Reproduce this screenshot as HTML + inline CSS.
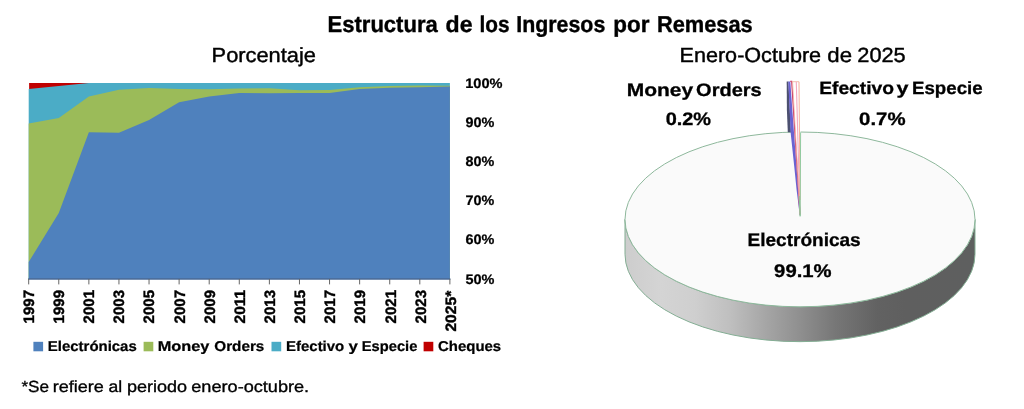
<!DOCTYPE html>
<html lang="es"><head><meta charset="utf-8"><title>Estructura de los Ingresos por Remesas</title>
<style>
html,body{margin:0;padding:0;background:#fff;}
body{width:1024px;height:409px;overflow:hidden;}
svg{display:block;font-family:'Liberation Sans', sans-serif;fill:#000;}
text{white-space:pre;text-rendering:geometricPrecision;}
</style></head><body>
<svg width="1024" height="409" viewBox="0 0 1024 409">
<rect width="1024" height="409" fill="#ffffff"/>
<g style="filter:blur(0.45px)">
<polygon points="29.10,83 90.87,83 90.87,84.5 29.10,91" fill="#C00000"/>
<polygon points="28.70,89.10 58.78,86.05 88.87,83.00 118.95,83.00 149.04,83.00 179.12,83.00 209.21,83.00 239.29,83.00 269.38,83.00 299.46,83.00 329.55,83.00 359.63,83.00 389.72,83.00 419.81,83.00 449.89,83.00 449.89,279.00 28.70,279.00" fill="#4BACC6"/>
<polygon points="28.70,123.50 58.78,118.00 88.87,96.60 118.95,89.80 149.04,88.00 179.12,89.00 209.21,89.30 239.29,88.60 269.38,88.20 299.46,90.20 329.55,89.90 359.63,87.20 389.72,86.00 419.81,85.60 449.89,85.80 449.89,279.00 28.70,279.00" fill="#9BBB59"/>
<polygon points="28.70,262.00 58.78,213.00 88.87,132.20 118.95,132.80 149.04,120.00 179.12,102.30 209.21,96.50 239.29,93.10 269.38,93.30 299.46,92.90 329.55,93.00 359.63,88.90 389.72,87.80 419.81,87.20 449.89,86.60 449.89,279.00 28.70,279.00" fill="#4F81BD"/>
<line x1="28.20" y1="279" x2="450.39" y2="279" stroke="#4a6a96" stroke-width="1.3"/>
<line x1="28.70" y1="279" x2="28.70" y2="284.4" stroke="#666666" stroke-width="1"/>
<line x1="58.78" y1="279" x2="58.78" y2="284.4" stroke="#666666" stroke-width="1"/>
<line x1="88.87" y1="279" x2="88.87" y2="284.4" stroke="#666666" stroke-width="1"/>
<line x1="118.95" y1="279" x2="118.95" y2="284.4" stroke="#666666" stroke-width="1"/>
<line x1="149.04" y1="279" x2="149.04" y2="284.4" stroke="#666666" stroke-width="1"/>
<line x1="179.12" y1="279" x2="179.12" y2="284.4" stroke="#666666" stroke-width="1"/>
<line x1="209.21" y1="279" x2="209.21" y2="284.4" stroke="#666666" stroke-width="1"/>
<line x1="239.29" y1="279" x2="239.29" y2="284.4" stroke="#666666" stroke-width="1"/>
<line x1="269.38" y1="279" x2="269.38" y2="284.4" stroke="#666666" stroke-width="1"/>
<line x1="299.46" y1="279" x2="299.46" y2="284.4" stroke="#666666" stroke-width="1"/>
<line x1="329.55" y1="279" x2="329.55" y2="284.4" stroke="#666666" stroke-width="1"/>
<line x1="359.63" y1="279" x2="359.63" y2="284.4" stroke="#666666" stroke-width="1"/>
<line x1="389.72" y1="279" x2="389.72" y2="284.4" stroke="#666666" stroke-width="1"/>
<line x1="419.81" y1="279" x2="419.81" y2="284.4" stroke="#666666" stroke-width="1"/>
<line x1="449.89" y1="279" x2="449.89" y2="284.4" stroke="#666666" stroke-width="1"/>
<text transform="translate(33.80,323.40) rotate(-90)" font-size="15.12" font-weight="700" stroke="#000" stroke-width="0.4" textLength="33.40" lengthAdjust="spacingAndGlyphs">1997</text>
<text transform="translate(63.95,323.40) rotate(-90)" font-size="15.12" font-weight="700" stroke="#000" stroke-width="0.4" textLength="33.40" lengthAdjust="spacingAndGlyphs">1999</text>
<text transform="translate(94.10,323.40) rotate(-90)" font-size="15.12" font-weight="700" stroke="#000" stroke-width="0.4" textLength="33.40" lengthAdjust="spacingAndGlyphs">2001</text>
<text transform="translate(124.25,323.40) rotate(-90)" font-size="15.12" font-weight="700" stroke="#000" stroke-width="0.4" textLength="33.40" lengthAdjust="spacingAndGlyphs">2003</text>
<text transform="translate(154.40,323.40) rotate(-90)" font-size="15.12" font-weight="700" stroke="#000" stroke-width="0.4" textLength="33.40" lengthAdjust="spacingAndGlyphs">2005</text>
<text transform="translate(184.55,323.40) rotate(-90)" font-size="15.12" font-weight="700" stroke="#000" stroke-width="0.4" textLength="33.40" lengthAdjust="spacingAndGlyphs">2007</text>
<text transform="translate(214.70,323.40) rotate(-90)" font-size="15.12" font-weight="700" stroke="#000" stroke-width="0.4" textLength="33.40" lengthAdjust="spacingAndGlyphs">2009</text>
<text transform="translate(244.85,323.40) rotate(-90)" font-size="15.12" font-weight="700" stroke="#000" stroke-width="0.4" textLength="33.40" lengthAdjust="spacingAndGlyphs">2011</text>
<text transform="translate(275.00,323.40) rotate(-90)" font-size="15.12" font-weight="700" stroke="#000" stroke-width="0.4" textLength="33.40" lengthAdjust="spacingAndGlyphs">2013</text>
<text transform="translate(305.15,323.40) rotate(-90)" font-size="15.12" font-weight="700" stroke="#000" stroke-width="0.4" textLength="33.40" lengthAdjust="spacingAndGlyphs">2015</text>
<text transform="translate(335.30,323.40) rotate(-90)" font-size="15.12" font-weight="700" stroke="#000" stroke-width="0.4" textLength="33.40" lengthAdjust="spacingAndGlyphs">2017</text>
<text transform="translate(365.45,323.40) rotate(-90)" font-size="15.12" font-weight="700" stroke="#000" stroke-width="0.4" textLength="33.40" lengthAdjust="spacingAndGlyphs">2019</text>
<text transform="translate(395.60,323.40) rotate(-90)" font-size="15.12" font-weight="700" stroke="#000" stroke-width="0.4" textLength="33.40" lengthAdjust="spacingAndGlyphs">2021</text>
<text transform="translate(425.75,323.40) rotate(-90)" font-size="15.12" font-weight="700" stroke="#000" stroke-width="0.4" textLength="33.40" lengthAdjust="spacingAndGlyphs">2023</text>
<text transform="translate(455.90,331.60) rotate(-90)" font-size="15.12" font-weight="700" stroke="#000" stroke-width="0.4" textLength="41.00" lengthAdjust="spacingAndGlyphs">2025*</text>
<text y="87.90" font-size="13.81" font-weight="700" stroke="#000" stroke-width="0.23"><tspan x="465.26" textLength="37.28" lengthAdjust="spacingAndGlyphs">100%</tspan></text>
<text y="127.03" font-size="13.81" font-weight="700" stroke="#000" stroke-width="0.23"><tspan x="465.55" textLength="28.91" lengthAdjust="spacingAndGlyphs">90%</tspan></text>
<text y="166.16" font-size="13.81" font-weight="700" stroke="#000" stroke-width="0.23"><tspan x="465.60" textLength="28.75" lengthAdjust="spacingAndGlyphs">80%</tspan></text>
<text y="205.29" font-size="13.81" font-weight="700" stroke="#000" stroke-width="0.23"><tspan x="465.62" textLength="28.74" lengthAdjust="spacingAndGlyphs">70%</tspan></text>
<text y="244.42" font-size="13.81" font-weight="700" stroke="#000" stroke-width="0.23"><tspan x="465.55" textLength="28.91" lengthAdjust="spacingAndGlyphs">60%</tspan></text>
<text y="283.55" font-size="13.81" font-weight="700" stroke="#000" stroke-width="0.23"><tspan x="465.42" textLength="28.99" lengthAdjust="spacingAndGlyphs">50%</tspan></text>
<text y="32.40" font-size="22.98" font-weight="700" stroke="#000" stroke-width="0.39"><tspan x="327.49" textLength="110.29" lengthAdjust="spacingAndGlyphs">Estructura</tspan> <tspan x="445.63" textLength="26.98" lengthAdjust="spacingAndGlyphs">de</tspan> <tspan x="479.47" textLength="30.08" lengthAdjust="spacingAndGlyphs">los</tspan> <tspan x="516.29" textLength="88.99" lengthAdjust="spacingAndGlyphs">Ingresos</tspan> <tspan x="613.23" textLength="36.15" lengthAdjust="spacingAndGlyphs">por</tspan> <tspan x="656.89" textLength="95.90" lengthAdjust="spacingAndGlyphs">Remesas</tspan></text>
<text y="62.40" font-size="20.44" stroke="#000" stroke-width="0.41"><tspan x="211.62" textLength="104.31" lengthAdjust="spacingAndGlyphs">Porcentaje</tspan></text>
<text y="62.40" font-size="20.44" stroke="#000" stroke-width="0.41"><tspan x="679.52" textLength="141.62" lengthAdjust="spacingAndGlyphs">Enero-Octubre</tspan> <tspan x="827.33" textLength="24.69" lengthAdjust="spacingAndGlyphs">de</tspan> <tspan x="857.29" textLength="48.39" lengthAdjust="spacingAndGlyphs">2025</tspan></text>
<rect x="33.40" y="341.80" width="9.7" height="9.5" fill="#4F81BD"/>
<rect x="143.60" y="341.80" width="9.7" height="9.5" fill="#9BBB59"/>
<rect x="271.50" y="341.80" width="9.7" height="9.5" fill="#4BACC6"/>
<rect x="423.60" y="341.80" width="9.7" height="9.5" fill="#C00000"/>
<text y="351.30" font-size="14.24" font-weight="700" stroke="#000" stroke-width="0.24"><tspan x="47.83" textLength="88.92" lengthAdjust="spacingAndGlyphs">Electrónicas</tspan></text>
<text y="351.30" font-size="14.24" font-weight="700" stroke="#000" stroke-width="0.24"><tspan x="157.72" textLength="51.74" lengthAdjust="spacingAndGlyphs">Money</tspan> <tspan x="214.31" textLength="50.05" lengthAdjust="spacingAndGlyphs">Orders</tspan></text>
<text y="351.30" font-size="14.24" font-weight="700" stroke="#000" stroke-width="0.24"><tspan x="286.07" textLength="58.14" lengthAdjust="spacingAndGlyphs">Efectivo</tspan> <tspan x="348.41" textLength="9.36" lengthAdjust="spacingAndGlyphs">y</tspan> <tspan x="361.80" textLength="55.51" lengthAdjust="spacingAndGlyphs">Especie</tspan></text>
<text y="351.30" font-size="14.24" font-weight="700" stroke="#000" stroke-width="0.24"><tspan x="438.05" textLength="63.07" lengthAdjust="spacingAndGlyphs">Cheques</tspan></text>
<text y="391.60" font-size="16.07" stroke="#000" stroke-width="0.32"><tspan x="21.42" textLength="27.61" lengthAdjust="spacingAndGlyphs">*Se</tspan> <tspan x="52.66" textLength="50.99" lengthAdjust="spacingAndGlyphs">refiere</tspan> <tspan x="108.58" textLength="13.69" lengthAdjust="spacingAndGlyphs">al</tspan> <tspan x="127.01" textLength="60.08" lengthAdjust="spacingAndGlyphs">periodo</tspan> <tspan x="191.29" textLength="117.88" lengthAdjust="spacingAndGlyphs">enero-octubre.</tspan></text>
<defs><linearGradient id="wall" x1="625" x2="975" y1="0" y2="0" gradientUnits="userSpaceOnUse"><stop offset="0" stop-color="#cdcdcd"/><stop offset="0.1" stop-color="#d4d4d4"/><stop offset="0.2" stop-color="#cfcfcf"/><stop offset="0.3" stop-color="#bfbfbf"/><stop offset="0.4" stop-color="#a6a6a6"/><stop offset="0.5" stop-color="#8f8f8f"/><stop offset="0.6" stop-color="#777777"/><stop offset="0.72" stop-color="#626262"/><stop offset="0.8" stop-color="#5f5f5f"/><stop offset="1" stop-color="#5e5f5f"/></linearGradient></defs>
<path d="M625.00,219.40 L625.00,254.30 A175.00,87.40 0 0 0 975.00,254.30 L975.00,219.40 A175.00,87.40 0 0 1 625.00,219.40 Z" fill="url(#wall)" stroke="#83ad93" stroke-width="1"/>
<ellipse cx="800.00" cy="219.40" rx="175.00" ry="87.40" fill="#fafafa" stroke="#8db79b" stroke-width="1"/>
<polygon points="790.6,129 800.6,129 800.4,214 799.8,215" fill="#ffffff"/>
<polygon points="787,81.4 799.4,81.4 800.2,214 799.8,215" fill="#ffffff"/>
<polygon points="786.7,81.4 788.4,81.4 790.9,132.2 787.8,132.2 786.9,110" fill="#4c5070"/>
<polygon points="788.3,81.4 790.3,81.4 799.9,214.5 799.6,215 798.5,205 796.6,190 794.6,170 790.6,132.2" fill="#6a62d2"/>
<polyline points="790.3,81.4 791.7,81.4 800,214.5" fill="none" stroke="#c8386a" stroke-width="1.2"/>
<polyline points="791.7,81.7 799.2,81.7" fill="none" stroke="#f3b7a4" stroke-width="0.9"/>
<line x1="792.6" y1="82" x2="800" y2="214" stroke="#f3b7a4" stroke-width="0.8"/>
<line x1="796.3" y1="82" x2="800" y2="214" stroke="#f5a9c0" stroke-width="1.1"/>
<line x1="799" y1="82" x2="800.1" y2="200" stroke="#f4a890" stroke-width="0.9"/>
<line x1="800.6" y1="132.4" x2="800.2" y2="216" stroke="#86c596" stroke-width="0.9"/>
<line x1="799.2" y1="196" x2="800.1" y2="216.5" stroke="#86c596" stroke-width="1"/>
<text y="96.40" font-size="18.05" font-weight="700" stroke="#000" stroke-width="0.31"><tspan x="626.69" textLength="66.37" lengthAdjust="spacingAndGlyphs">Money</tspan> <tspan x="696.11" textLength="65.58" lengthAdjust="spacingAndGlyphs">Orders</tspan></text>
<text y="124.50" font-size="18.02" font-weight="700" stroke="#000" stroke-width="0.31"><tspan x="665.69" textLength="45.40" lengthAdjust="spacingAndGlyphs">0.2%</tspan></text>
<text y="94.10" font-size="17.76" font-weight="700" stroke="#000" stroke-width="0.30"><tspan x="819.15" textLength="74.87" lengthAdjust="spacingAndGlyphs">Efectivo</tspan> <tspan x="896.51" textLength="11.97" lengthAdjust="spacingAndGlyphs">y</tspan> <tspan x="912.01" textLength="70.61" lengthAdjust="spacingAndGlyphs">Especie</tspan></text>
<text y="125.10" font-size="18.02" font-weight="700" stroke="#000" stroke-width="0.31"><tspan x="859.07" textLength="46.46" lengthAdjust="spacingAndGlyphs">0.7%</tspan></text>
<text y="246.40" font-size="18.33" font-weight="700" stroke="#000" stroke-width="0.31"><tspan x="747.51" textLength="113.21" lengthAdjust="spacingAndGlyphs">Electrónicas</tspan></text>
<text y="276.90" font-size="18.31" font-weight="700" stroke="#000" stroke-width="0.31"><tspan x="774.11" textLength="57.52" lengthAdjust="spacingAndGlyphs">99.1%</tspan></text>
</g>
</svg>
</body></html>
